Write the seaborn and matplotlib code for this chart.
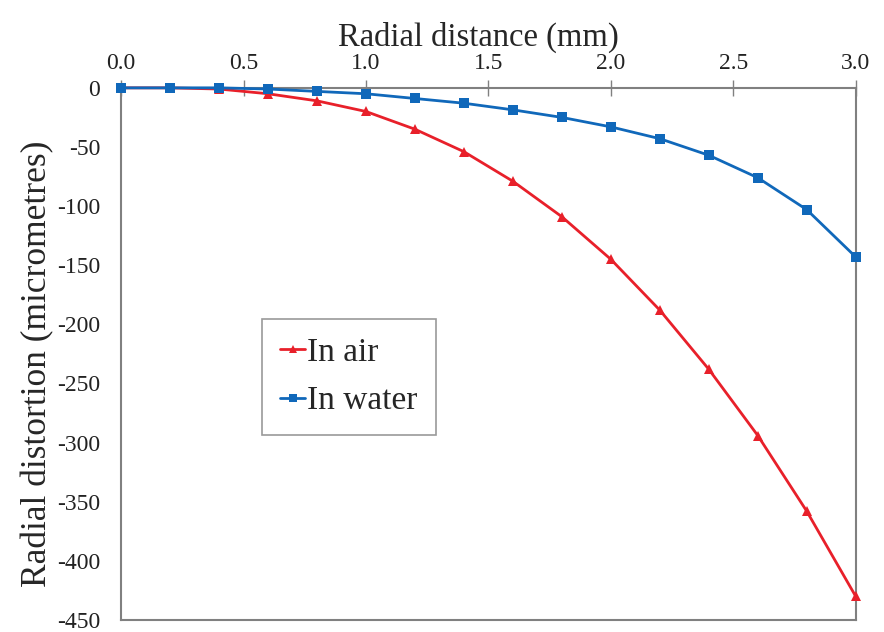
import numpy as np
import pandas as pd
import seaborn as sns
from matplotlib import pyplot as plt

radius = [0.0, 0.2, 0.4, 0.6, 0.8, 1.0, 1.2, 1.4, 1.6, 1.8, 2.0, 2.2, 2.4, 2.6, 2.8, 3.0]
in_air = [0, 0, -1, -5, -11, -20, -35, -54, -79, -109, -145, -188, -238, -294, -358, -430]
in_water = [0, 0, 0, -1, -3, -5, -9, -13, -18.6, -25, -33, -43, -57, -76, -103, -143]
series_names = ['In air', 'In water']

df = pd.DataFrame({
    'r': radius * 2,
    'd': in_air + in_water,
    'medium': [series_names[0]] * len(radius) + [series_names[1]] * len(radius),
})

sns.set_style('white')
plt.rcParams['font.family'] = ['Liberation Serif', 'DejaVu Serif']
plt.rcParams['axes.unicode_minus'] = False

fig = plt.figure(figsize=(8.84, 6.32), dpi=100)
ax = fig.add_axes([0.137, 0.019, 0.831, 0.842])

sns.lineplot(
    data=df, x='r', y='d', hue='medium', style='medium',
    palette={'In air': '#E8202A', 'In water': '#1068BA'},
    markers={'In air': '^', 'In water': 's'},
    dashes=False, markersize=7, markeredgewidth=0, linewidth=2,
    ax=ax, clip_on=False, zorder=3,
)

ax.set_xlim(0, 3.0)
ax.set_ylim(-450, 0)
ax.set_xticks(np.arange(0, 3.01, 0.5))
ax.set_xticklabels(['%.1f' % v for v in np.arange(0, 3.01, 0.5)])
ax.set_yticks(np.arange(-450, 1, 50))
ax.xaxis.tick_top()
ax.xaxis.set_label_position('top')
ax.tick_params(axis='both', direction='inout', length=12, width=1, color='#808080',
               labelsize=17, labelcolor='#222222')
ax.tick_params(axis='x', pad=4)
ax.tick_params(axis='y', pad=9)
for s in ax.spines.values():
    s.set_color('#808080')
    s.set_linewidth(1.5)

ax.set_xlabel('Radial distance (mm)', fontsize=23.5, labelpad=5)
ax.set_ylabel('Radial distortion (micrometres)', fontsize=25.5, labelpad=2)
ax.xaxis.label.set_x(0.486)
ax.yaxis.label.set_y(0.481)

h, l = ax.get_legend_handles_labels()
leg = ax.legend(h, l, loc='lower left', bbox_to_anchor=(0.192, 0.348), fontsize=24,
                frameon=True, fancybox=False, edgecolor='#808080', handlelength=0.75,
                handletextpad=0.05, borderpad=0.55, labelspacing=0.55,
                borderaxespad=0, markerscale=0.8)
leg.get_frame().set_linewidth(1.2)

fig.savefig('out.png', dpi=100)
